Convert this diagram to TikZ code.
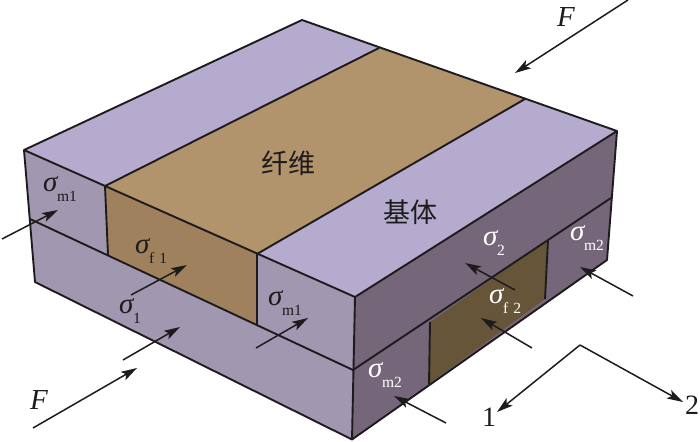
\documentclass[tikz,border=0pt]{standalone}
\usepackage{fontspec}
\setmainfont{Liberation Serif}
\newfontfamily\cjkf{Noto Sans CJK SC}[Scale=1]
\usetikzlibrary{arrows.meta}
\definecolor{topP}{HTML}{B5ABCF}
\definecolor{topB}{HTML}{B1936C}
\definecolor{leftP}{HTML}{A297B0}
\definecolor{leftB}{HTML}{A0815E}
\definecolor{rightP}{HTML}{75667A}
\definecolor{rightB}{HTML}{67553A}
\definecolor{ink}{HTML}{1E1B1C}
\newcommand{\sigl}[1]{\makebox[14pt][l]{\fontsize{29}{29}\selectfont\itshape σ}\raisebox{-10pt}{\fontsize{15.5}{16}\selectfont #1}}
\tikzset{
  edge/.style={draw=ink,line width=1.9pt,line join=round},
  force/.style={draw=ink,line width=1.5pt,-{Stealth[length=16pt,width=9.5pt,inset=3.5pt]}},
  lab/.style={anchor=base west,inner sep=0pt,outer sep=0pt,text=ink},
  wlab/.style={lab,text=white},
  big/.style={lab,font=\fontsize{28}{28}\selectfont},
  bigit/.style={lab,font=\fontsize{29}{29}\selectfont\itshape},
  cjk/.style={inner sep=0pt,text=ink,font=\cjkf\fontsize{27}{27}\selectfont}
}
\begin{document}
\begin{tikzpicture}[x=1pt,y=-1pt]
\useasboundingbox (0,0) rectangle (700,441);
% corners
\coordinate (B) at (302,20);
\coordinate (R) at (617,131);
\coordinate (L) at (24,150);
\coordinate (FT) at (355,297);
\coordinate (FB) at (352,439.5);
\coordinate (LB) at (35,282);
\coordinate (RB) at (607,260);
\coordinate (LM) at (30,219);
\coordinate (FM) at (353,370);
\coordinate (RM) at (611,198);
% fibre on top and left face
\coordinate (a1) at (105,186);
\coordinate (a2) at (257,254);
\coordinate (b1) at (379,48);
\coordinate (b2) at (525,99);
\coordinate (c1) at (108,255);
\coordinate (c2) at (257,325);
% fibre on right face
\coordinate (d1) at (430,322);
\coordinate (d2) at (429,384);
\coordinate (e1) at (548,240);
\coordinate (e2) at (545,299);
% faces
\fill[leftP] (L)--(FT)--(FB)--(LB)--cycle;
\fill[rightP] (FT)--(R)--(RB)--(FB)--cycle;
\fill[topP] (B)--(R)--(FT)--(L)--cycle;
\fill[topB] (a1)--(b1)--(b2)--(a2)--cycle;
\fill[leftB] (a1)--(a2)--(c2)--(c1)--cycle;
\fill[rightB] (d1)--(e1)--(e2)--(d2)--cycle;
% edges
\draw[edge] (B)--(R)--(FT)--(L)--cycle;
\draw[edge] (L)--(LB)--(FB)--(RB)--(R);
\draw[edge] (FT)--(FB);
\draw[edge] (LM)--(FM)--(RM);
\draw[edge] (a1)--(b1);
\draw[edge] (a2)--(b2);
\draw[edge] (a1)--(c1);
\draw[edge] (a2)--(c2);
\draw[edge] (d1)--(d2);
\draw[edge] (e1)--(e2);
% arrow ends
\coordinate (A1) at (2,239);   \coordinate (A2) at (58,210);
\coordinate (C1) at (131,295); \coordinate (C2) at (187,265);
\coordinate (D1) at (123,360); \coordinate (D2) at (180,327);
\coordinate (E1) at (33,428);  \coordinate (E2) at (137,368);
\coordinate (G1) at (256,348); \coordinate (G2) at (308,318);
\coordinate (H1) at (628,0);   \coordinate (H2) at (515,73);
\coordinate (I1) at (515,290); \coordinate (I2) at (465,263);
\coordinate (J1) at (633,296); \coordinate (J2) at (580,267);
\coordinate (K1) at (532,348); \coordinate (K2) at (481,318);
\coordinate (M1) at (446,423); \coordinate (M2) at (394,396);
\coordinate (Ax) at (580,345);
\coordinate (Ax1) at (497,412);
\coordinate (Ax2) at (683,402);
\foreach \p/\q in {A1/A2,C1/C2,D1/D2,E1/E2,G1/G2,H1/H2,I1/I2,J1/J2,K1/K2,M1/M2,Ax/Ax1,Ax/Ax2}
  \draw[force] (\p)--(\q);
% labels
\node[lab] (s1) at (43,191) {\sigl{m1}};
\node[lab] (s2) at (135,253) {\sigl{f\,\,1}};
\node[lab] (s3) at (119,313) {\sigl{1}};
\node[lab] (s4) at (268,305) {\sigl{m1}};
\node[wlab] (s5) at (483,245) {\sigl{2}};
\node[wlab] (s6) at (489,303) {\sigl{f\,\,2}};
\node[wlab] (s7) at (570,240) {\sigl{m2}};
\node[wlab] (s8) at (368,377) {\sigl{m2}};
\node[bigit] (f1) at (30,409) {F};
\node[bigit] (f2) at (557,27) {F};
\node[big] (n1) at (482,426) {1};
\node[big] (n2) at (685,414) {2};
\node[cjk] (x1) at (288,163) {纤维};
\node[cjk] (x2) at (410,212) {基体};
\end{tikzpicture}
\end{document}
